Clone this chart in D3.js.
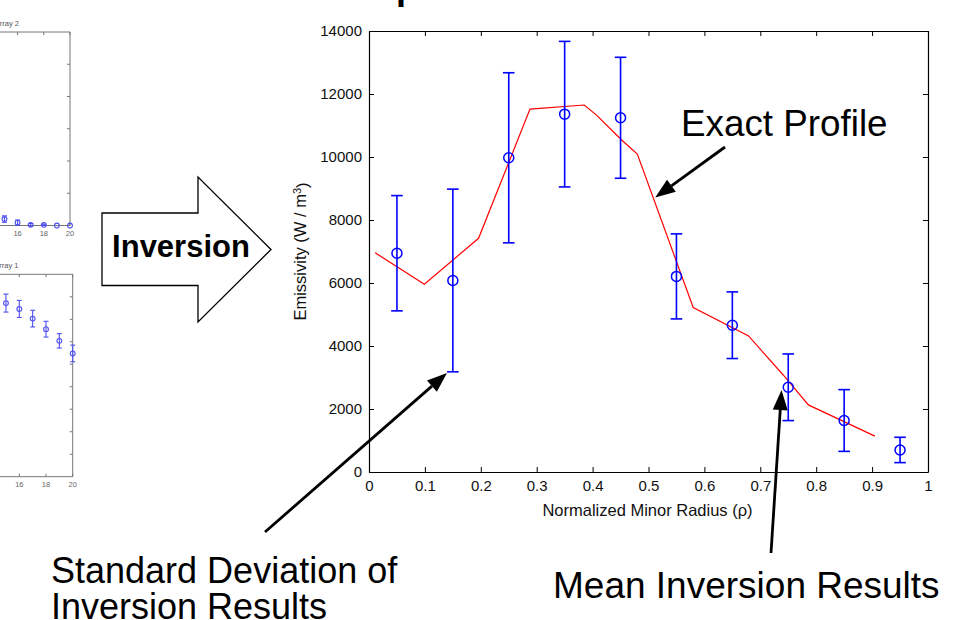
<!DOCTYPE html>
<html>
<head>
<meta charset="utf-8">
<script src="https://cdn.jsdelivr.net/npm/d3@7"></script>
<style>
  html, body { margin: 0; padding: 0; background: #fff; }
  svg { display: block; }
  text { font-family: "Liberation Sans", Arial, Helvetica, sans-serif; }
</style>
</head>
<body>
<svg id="chart" width="977" height="620"></svg>
<script>
// ---------- data ----------
const rho      = [0.05, 0.15, 0.25, 0.35, 0.45, 0.55, 0.65, 0.75, 0.85, 0.95];
const meanInv  = [6945, 6080, 9975, 11360, 11245, 6210, 4660, 2690, 1635, 700];
const stdInv   = [1830, 2900, 2700, 2310, 1920, 1350, 1058, 1058, 980, 402];

const exactRho = [0.011, 0.099, 0.196, 0.288, 0.385, 0.407, 0.452, 0.48, 0.58, 0.679, 0.741, 0.786, 0.905];
const exactVal = [6960, 5960, 7420, 11520, 11650, 11330, 10540, 10090, 5220, 4320, 3080, 2130, 1140];

const xTicks = [0, 0.1, 0.2, 0.3, 0.4, 0.5, 0.6, 0.7, 0.8, 0.9, 1];
const yTicks = [0, 2000, 4000, 6000, 8000, 10000, 12000, 14000];

// partial subplots at left (detector channel index vs. signal, in tick units)
const chan      = [15, 16, 17, 18, 19, 20];
const array2Val = [0.20, 0.09, 0.02, 0.02, 0.0, 0.0];
const array2Err = [0.10, 0.08, 0.04, 0.02, 0.0, 0.0];
const array1Val = [7.72, 7.46, 7.03, 6.56, 6.04, 5.48];
const array1Err = [0.40, 0.38, 0.37, 0.35, 0.32, 0.37];
const subXTicks = [14, 16, 18, 20];

const svg = d3.select("#chart");

// ---------- main axes ----------
const x = d3.scaleLinear().domain([0, 1]).range([369, 928]);
const y = d3.scaleLinear().domain([0, 14000]).range([472, 31]);
const TL = 5;
const tickFont = "15px";

const gB = svg.append("g").attr("transform", `translate(0,${y(0)})`)
  .call(d3.axisBottom(x).tickValues(xTicks).tickFormat(d3.format("")).tickSizeInner(-TL).tickSizeOuter(0).tickPadding(8));
const gT = svg.append("g").attr("transform", `translate(0,${y(14000)})`)
  .call(d3.axisTop(x).tickValues(xTicks).tickFormat("").tickSizeInner(-TL).tickSizeOuter(0));
const gL = svg.append("g").attr("transform", `translate(${x(0)},0)`)
  .call(d3.axisLeft(y).tickValues(yTicks).tickFormat(d3.format("d")).tickSizeInner(-TL).tickSizeOuter(0).tickPadding(7));
const gR = svg.append("g").attr("transform", `translate(${x(1)},0)`)
  .call(d3.axisRight(y).tickValues(yTicks).tickFormat("").tickSizeInner(-TL).tickSizeOuter(0));

[gB, gT, gL, gR].forEach(g => {
  g.select(".domain").attr("stroke", "#000").attr("stroke-width", 1.2);
  g.selectAll(".tick line").attr("stroke", "#000").attr("stroke-width", 1);
  g.selectAll(".tick text").attr("fill", "#111").style("font-size", tickFont)
    .style("font-family", '"Liberation Sans", Arial, sans-serif');
});

// axis labels
svg.append("text")
  .attr("x", (x(0) + x(1)) / 2 - 1).attr("y", 516)
  .attr("text-anchor", "middle").style("font-size", "16.5px").attr("fill", "#111")
  .text("Normalized Minor Radius (ρ)");

const yl = svg.append("text")
  .attr("transform", `translate(306,${(y(0) + y(14000)) / 2}) rotate(-90)`)
  .attr("text-anchor", "middle").style("font-size", "16.5px").attr("fill", "#111");
yl.append("tspan").text("Emissivity (W / m");
yl.append("tspan").attr("dy", "-0.45em").style("font-size", "11px").text("3");
yl.append("tspan").attr("dy", "0.45em").text(")");

// exact profile line
const line = d3.line().x(d => x(d[0])).y(d => y(d[1]));
svg.append("path")
  .datum(exactRho.map((r, i) => [r, exactVal[i]]))
  .attr("d", line).attr("fill", "none").attr("stroke", "#ff0000").attr("stroke-width", 1.2);

// error bars + circles
const blue = "#0000ff";
const cap = 5.8;
const pts = rho.map((r, i) => ({ r, m: meanInv[i], s: stdInv[i] }));
const eb = svg.append("g").attr("stroke", blue).attr("stroke-width", 1.6).attr("fill", "none");
eb.selectAll(".v").data(pts).join("line")
  .attr("x1", d => x(d.r)).attr("x2", d => x(d.r))
  .attr("y1", d => y(d.m - d.s)).attr("y2", d => y(d.m + d.s));
eb.selectAll(".ct").data(pts).join("line")
  .attr("x1", d => x(d.r) - cap).attr("x2", d => x(d.r) + cap)
  .attr("y1", d => y(d.m + d.s)).attr("y2", d => y(d.m + d.s));
eb.selectAll(".cb").data(pts).join("line")
  .attr("x1", d => x(d.r) - cap).attr("x2", d => x(d.r) + cap)
  .attr("y1", d => y(d.m - d.s)).attr("y2", d => y(d.m - d.s));
eb.selectAll("circle").data(pts).join("circle")
  .attr("cx", d => x(d.r)).attr("cy", d => y(d.m)).attr("r", 5)
  .attr("stroke-width", 1.5);

// ---------- partial left subplots ----------
function subplot(opt) {
  const sx = d3.scaleLinear().domain([14, 20]).range([opt.x14, opt.xR]);
  const sy = d3.scaleLinear().domain([0, opt.nY]).range([opt.yB, opt.yT]);
  const g = svg.append("g");
  const ax = "#777";
  g.append("line").attr("x1", 0).attr("x2", opt.xR).attr("y1", opt.yT).attr("y2", opt.yT).attr("stroke", ax);
  g.append("line").attr("x1", 0).attr("x2", opt.xR).attr("y1", opt.yB).attr("y2", opt.yB).attr("stroke", ax);
  g.append("line").attr("x1", opt.xR).attr("x2", opt.xR).attr("y1", opt.yT).attr("y2", opt.yB).attr("stroke", ax);
  subXTicks.forEach(t => {
    g.append("line").attr("x1", sx(t)).attr("x2", sx(t)).attr("y1", opt.yT).attr("y2", opt.yT + 3).attr("stroke", ax);
    g.append("line").attr("x1", sx(t)).attr("x2", sx(t)).attr("y1", opt.yB).attr("y2", opt.yB - 3).attr("stroke", ax);
    if (t > 14) g.append("text").attr("x", sx(t)).attr("y", opt.yB + 10)
      .attr("text-anchor", "middle").style("font-size", "7.5px").attr("fill", "#666").text(t);
  });
  d3.range(1, opt.nY).forEach(k => {
    g.append("line").attr("x1", opt.xR).attr("x2", opt.xR - 3).attr("y1", sy(k)).attr("y2", sy(k)).attr("stroke", ax);
  });
  g.append("text").attr("x", opt.titleEnd).attr("y", opt.titleY).attr("text-anchor", "end")
    .style("font-size", "7.5px").attr("fill", "#555").text(opt.title);
  const c = "#4f4ff0";
  const d = chan.map((ch, i) => ({ ch, v: opt.vals[i], e: opt.errs[i] }));
  const gg = g.append("g").attr("stroke", c).attr("fill", "none").attr("stroke-width", 1.1);
  d.filter(p => p.e > 0).forEach(p => {
    gg.append("line").attr("x1", sx(p.ch)).attr("x2", sx(p.ch)).attr("y1", sy(p.v - p.e)).attr("y2", sy(p.v + p.e));
    gg.append("line").attr("x1", sx(p.ch) - 2.5).attr("x2", sx(p.ch) + 2.5).attr("y1", sy(p.v - p.e)).attr("y2", sy(p.v - p.e));
    gg.append("line").attr("x1", sx(p.ch) - 2.5).attr("x2", sx(p.ch) + 2.5).attr("y1", sy(p.v + p.e)).attr("y2", sy(p.v + p.e));
  });
  d.forEach(p => gg.append("circle").attr("cx", sx(p.ch)).attr("cy", sy(p.v)).attr("r", 2.4));
}
subplot({ x14: -8.6, xR: 70, yT: 32, yB: 225.5, nY: 6, vals: array2Val, errs: array2Err,
          title: "Array 2", titleEnd: 19, titleY: 26 });
subplot({ x14: -7.4, xR: 72.7, yT: 274.3, yB: 476.7, nY: 9, vals: array1Val, errs: array1Err,
          title: "Array 1", titleEnd: 18.5, titleY: 267.5 });

// ---------- hollow "Inversion" arrow ----------
const bigArrow = [[102, 213], [198, 213], [198, 177], [271, 249.5], [198, 322], [198, 285.5], [102, 285.5]];
svg.append("path").attr("d", d3.line()(bigArrow) + "Z")
  .attr("fill", "#fff").attr("stroke", "#000").attr("stroke-width", 1.3);
svg.append("text").attr("x", 181).attr("y", 256.5).attr("text-anchor", "middle")
  .style("font-size", "31px").style("font-weight", "bold").attr("fill", "#000").text("Inversion");

// clipped title fragment at the very top
svg.append("text").attr("x", 396).attr("y", -1).style("font-size", "36px")
  .style("font-weight", "bold").attr("fill", "#000").text("p");

// ---------- annotations ----------
function arrow(x0, y0, x1, y1) {
  const ang = Math.atan2(y1 - y0, x1 - x0);
  const L = 20, W = 7.5;
  const bx = x1 - L * Math.cos(ang), by = y1 - L * Math.sin(ang);
  svg.append("line").attr("x1", x0).attr("y1", y0).attr("x2", bx).attr("y2", by)
    .attr("stroke", "#000").attr("stroke-width", 2.8);
  const px = -Math.sin(ang) * W, py = Math.cos(ang) * W;
  svg.append("path").attr("d", d3.line()([[x1, y1], [bx + px, by + py], [bx - px, by - py]]) + "Z")
    .attr("fill", "#000");
}
arrow(725, 147, x(0.512), y(8714));
arrow(265, 532, x(0.1395), y(3143));
arrow(771, 553, x(0.738), y(2603));

svg.append("text").attr("x", 681).attr("y", 136).style("font-size", "36.8px").attr("fill", "#000").text("Exact Profile");
const sd = svg.append("text").attr("x", 51).attr("y", 583).style("font-size", "36px").attr("fill", "#000");
sd.append("tspan").attr("x", 51).text("Standard Deviation of");
sd.append("tspan").attr("x", 51).attr("dy", 36).text("Inversion Results");
svg.append("text").attr("x", 553).attr("y", 598).style("font-size", "37px").attr("fill", "#000").text("Mean Inversion Results");
</script>
</body>
</html>
